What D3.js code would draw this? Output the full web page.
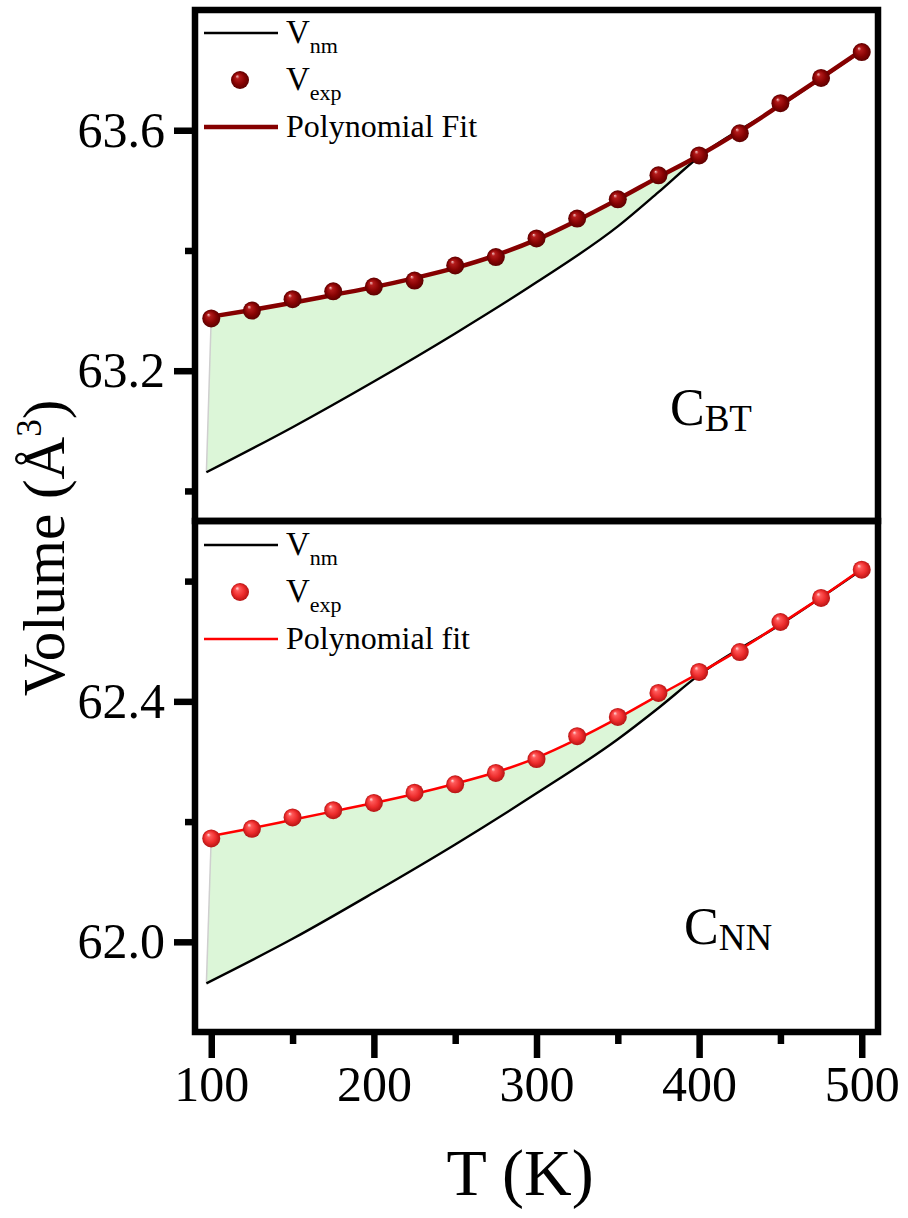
<!DOCTYPE html>
<html>
<head>
<meta charset="utf-8">
<script src="https://cdn.jsdelivr.net/npm/d3@7"></script>
<style>
  body { margin: 0; background: #fff; }
  svg { display: block; }
  text { font-family: "Liberation Serif", "Times New Roman", serif; fill: #000; }
</style>
</head>
<body>
<svg id="chart" width="908" height="1218"></svg>
<script>
// Temperatures of the measured points (K)
const temps = [100, 125, 150, 175, 200, 225, 250, 275, 300, 325, 350, 375, 400, 425, 450, 475, 500];

// C_BT sample: measured volume, polynomial fit, non-magnetic volume
const btExp = [63.287, 63.300, 63.319, 63.332, 63.340, 63.350, 63.375, 63.389, 63.420, 63.453, 63.485, 63.525, 63.558, 63.595, 63.645, 63.687, 63.730];
const btFit = [63.290, 63.301, 63.313, 63.326, 63.339, 63.354, 63.371, 63.392, 63.418, 63.450, 63.485, 63.522, 63.558, 63.598, 63.642, 63.687, 63.733];
const btNmTemps = [97, 150, 200, 250, 300, 350, 375, 400, 450, 500];
const btNm = [63.031, 63.106, 63.182, 63.262, 63.347, 63.440, 63.497, 63.556, 63.641, 63.732];

// C_NN sample
const nnExp = [62.172, 62.188, 62.207, 62.219, 62.231, 62.248, 62.262, 62.281, 62.304, 62.342, 62.374, 62.414, 62.449, 62.482, 62.532, 62.572, 62.619];
const nnFit = [62.176, 62.189, 62.203, 62.217, 62.231, 62.246, 62.263, 62.282, 62.306, 62.337, 62.372, 62.410, 62.447, 62.486, 62.529, 62.573, 62.620];
const nnNmTemps = [97, 150, 200, 250, 300, 350, 375, 400, 450, 500];
const nnNm = [61.931, 62.005, 62.082, 62.162, 62.247, 62.337, 62.389, 62.444, 62.528, 62.619];

// Shaded region ends where the two curves meet
const mergeT = 400;

// Axis ticks
const xMajor = [100, 200, 300, 400, 500];
const xMinor = [150, 250, 350, 450];
const btMajor = [63.2, 63.6];
const btMinor = [63.0, 63.4];
const nnMajor = [62.0, 62.4];
const nnMinor = [62.2, 62.6];

const svg = d3.select("#chart");
const L = 195, R = 878, T0 = 10, MID = 521, B = 1032;
const frameW = 6.5;

const x = d3.scaleLinear().domain([90, 510]).range([L, R]);

const panels = [
  {
    id: "bt", exp: btExp, fit: btFit, nmT: btNmTemps, nm: btNm,
    y: d3.scaleLinear().domain([62.95, 63.80]).range([MID, T0]),
    major: btMajor, minor: btMinor,
    fitColor: "#850000", fitWidth: 4.5,
    grad: ["#f6c9c9", "#b31b1b", "#870303", "#5c0000"],
    legend: { top: 33, fitLabel: "Polynomial Fit" },
    label: { main: "C", sub: "BT", x: 670, y: 425 }
  },
  {
    id: "nn", exp: nnExp, fit: nnFit, nmT: nnNmTemps, nm: nnNm,
    y: d3.scaleLinear().domain([61.85, 62.70]).range([B, MID]),
    major: nnMajor, minor: nnMinor,
    fitColor: "#ff0000", fitWidth: 2.5,
    grad: ["#ffe2e2", "#ff5a5a", "#ec2b2b", "#b51414"],
    legend: { top: 545, fitLabel: "Polynomial fit" },
    label: { main: "C", sub: "NN", x: 684, y: 944 }
  }
];

const defs = svg.append("defs");
panels.forEach(p => {
  const g = defs.append("radialGradient")
    .attr("id", "ball-" + p.id)
    .attr("cx", "0.5").attr("cy", "0.5").attr("r", "0.5")
    .attr("fx", "0.33").attr("fy", "0.28");
  g.append("stop").attr("offset", "0%").attr("stop-color", p.grad[0]);
  g.append("stop").attr("offset", "22%").attr("stop-color", p.grad[1]);
  g.append("stop").attr("offset", "65%").attr("stop-color", p.grad[2]);
  g.append("stop").attr("offset", "100%").attr("stop-color", p.grad[3]);
});

const ballR = 9;

panels.forEach(p => {
  const y = p.y;
  const g = svg.append("g");

  // Green shaded gap between the fit and the non-magnetic curve
  const upper = temps.map((t, i) => [t, p.fit[i]]).filter(d => d[0] <= mergeT);
  const lower = p.nmT.map((t, i) => [t, p.nm[i]]).filter(d => d[0] <= mergeT).reverse();
  const poly = upper.concat(lower);
  g.append("path")
    .attr("d", d3.line().x(d => x(d[0])).y(d => y(d[1]))(poly) + "Z")
    .attr("fill", "#dcf6d8")
    .attr("stroke", "none");
  // faint left edge of the shaded region
  g.append("line")
    .attr("x1", x(temps[0])).attr("y1", y(p.fit[0]))
    .attr("x2", x(p.nmT[0])).attr("y2", y(p.nm[0]))
    .attr("stroke", "#cfcfcf").attr("stroke-width", 1.5);

  // Non-magnetic volume
  g.append("path")
    .attr("d", d3.line().x((d, i) => x(p.nmT[i])).y(d => y(d)).curve(d3.curveMonotoneX)(p.nm))
    .attr("fill", "none").attr("stroke", "#000").attr("stroke-width", 2.4);

  // Polynomial fit
  g.append("path")
    .attr("d", d3.line().x((d, i) => x(temps[i])).y(d => y(d)).curve(d3.curveMonotoneX)(p.fit))
    .attr("fill", "none").attr("stroke", p.fitColor).attr("stroke-width", p.fitWidth)
    .attr("stroke-linejoin", "round");

  // Measured volumes
  g.selectAll("circle.pt").data(p.exp).join("circle")
    .attr("class", "pt")
    .attr("cx", (d, i) => x(temps[i]))
    .attr("cy", d => y(d))
    .attr("r", ballR)
    .attr("fill", `url(#ball-${p.id})`);

  // Y axis: major ticks with labels, minor ticks without
  const axMajor = d3.axisLeft(y).tickValues(p.major).tickSize(21).tickPadding(9)
    .tickFormat(d3.format(".1f"));
  const ga = svg.append("g").attr("transform", `translate(${L},0)`).call(axMajor);
  ga.select(".domain").remove();
  ga.selectAll(".tick line").attr("stroke", "#000").attr("stroke-width", frameW);
  ga.selectAll(".tick text").attr("font-size", 50).attr("fill", "#000")
    .style("font-family", '"Liberation Serif", serif');

  const axMinor = d3.axisLeft(y).tickValues(p.minor).tickSize(10).tickFormat("");
  const gm = svg.append("g").attr("transform", `translate(${L},0)`).call(axMinor);
  gm.select(".domain").remove();
  gm.selectAll(".tick line").attr("stroke", "#000").attr("stroke-width", frameW);

  // Legend
  const lg = svg.append("g");
  const ly = p.legend.top;
  const lx0 = 204, lx1 = 278, tx = 286;
  lg.append("line").attr("x1", lx0).attr("x2", lx1).attr("y1", ly).attr("y2", ly)
    .attr("stroke", "#000").attr("stroke-width", 2.6);
  const t1 = lg.append("text").attr("x", tx).attr("y", ly + 10).attr("font-size", 33);
  t1.append("tspan").text("V");
  t1.append("tspan").attr("dy", 10).attr("font-size", 22).text("nm");

  lg.append("circle").attr("cx", 240).attr("cy", ly + 47).attr("r", ballR)
    .attr("fill", `url(#ball-${p.id})`);
  const t2 = lg.append("text").attr("x", tx).attr("y", ly + 57).attr("font-size", 33);
  t2.append("tspan").text("V");
  t2.append("tspan").attr("dy", 10).attr("font-size", 22).text("exp");

  lg.append("line").attr("x1", lx0).attr("x2", lx1).attr("y1", ly + 94).attr("y2", ly + 94)
    .attr("stroke", p.fitColor).attr("stroke-width", p.fitWidth);
  lg.append("text").attr("x", tx).attr("y", ly + 104).attr("font-size", 32).text(p.legend.fitLabel);

  // Sample label
  const sl = svg.append("text").attr("x", p.label.x).attr("y", p.label.y).attr("font-size", 52);
  sl.append("tspan").text(p.label.main);
  sl.append("tspan").attr("dy", 6).attr("font-size", 37).text(p.label.sub);
});

// X axis along the bottom panel
const xa = svg.append("g").attr("transform", `translate(0,${B})`)
  .call(d3.axisBottom(x).tickValues(xMajor).tickSize(26).tickPadding(7).tickFormat(d3.format("d")));
xa.select(".domain").remove();
xa.selectAll(".tick line").attr("stroke", "#000").attr("stroke-width", frameW);
xa.selectAll(".tick text").attr("font-size", 50).attr("fill", "#000")
  .style("font-family", '"Liberation Serif", serif');
const xm = svg.append("g").attr("transform", `translate(0,${B})`)
  .call(d3.axisBottom(x).tickValues(xMinor).tickSize(12).tickFormat(""));
xm.select(".domain").remove();
xm.selectAll(".tick line").attr("stroke", "#000").attr("stroke-width", frameW);

// Panel frames
[[T0, MID], [MID, B]].forEach(([a, b]) => {
  svg.append("rect").attr("x", L).attr("y", a).attr("width", R - L).attr("height", b - a)
    .attr("fill", "none").attr("stroke", "#000").attr("stroke-width", frameW);
});

// Axis titles
svg.append("text").attr("x", 520).attr("y", 1195).attr("text-anchor", "middle")
  .attr("font-size", 66).text("T (K)");

const yt = svg.append("text").attr("transform", "translate(64,548) rotate(-90)")
  .attr("text-anchor", "middle").attr("font-size", 59);
yt.append("tspan").text("Volume (Å");
yt.append("tspan").attr("dy", -23).attr("font-size", 35).text("3");
yt.append("tspan").attr("dy", 23).text(")");
</script>
</body>
</html>
